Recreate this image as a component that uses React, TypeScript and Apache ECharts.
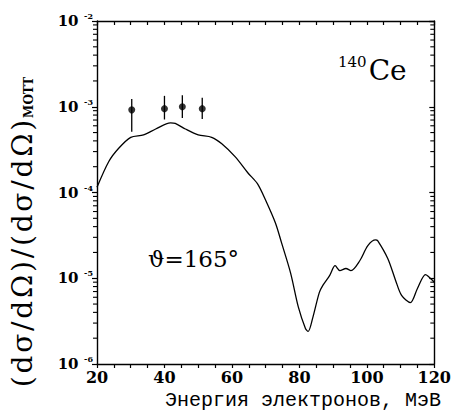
import React, { useEffect, useRef } from 'react';
import * as echarts from 'echarts';

// Calculated curve (electron energy, MeV -> cross-section ratio)
const curveX = [20, 23.5, 26.5, 30, 33.8, 37.4, 41.8, 43.2, 46.2, 50, 54, 57, 61, 64.7, 67.6, 70, 72.9, 74.7, 77.4, 79.7, 81.8, 82.6, 84, 85.9, 87, 89, 90.6, 92, 93.8, 95.3, 97.9, 100.3, 102.6, 103.2, 106.2, 108.5, 110.3, 112.9, 115, 117.4, 118.8, 120];
const curveY = [1.15e-4, 2.3e-4, 3.3e-4, 4.4e-4, 4.7e-4, 5.5e-4, 6.5e-4, 6.4e-4, 5.5e-4, 4.7e-4, 4.4e-4, 3.7e-4, 2.6e-4, 1.7e-4, 1.26e-4, 8.1e-5, 4.4e-5, 2.6e-5, 1.15e-5, 4.6e-6, 2.6e-6, 2.4e-6, 3.5e-6, 6.8e-6, 8.3e-6, 1.08e-5, 1.4e-5, 1.23e-5, 1.3e-5, 1.23e-5, 1.6e-5, 2.4e-5, 2.8e-5, 2.75e-5, 1.7e-5, 9.5e-6, 6.3e-6, 5.2e-6, 7.6e-6, 1.1e-5, 1.0e-5, 9e-6];

// Experimental points with error bars
const pointX = [30.3, 40, 45.3, 51.2];
const pointY = [9.2e-4, 9.5e-4, 1.0e-3, 9.5e-4];
const errLow = [5.1e-4, 7.1e-4, 7.4e-4, 7.2e-4];
const errHigh = [1.23e-3, 1.34e-3, 1.36e-3, 1.27e-3];

// Axis ticks
const xMin = 20;
const xMax = 120;
const xStep = 20;
const yDecades = [-6, -5, -4, -3, -2];
const minorMantissas = [2, 3, 4, 5, 6, 7, 8, 9];

export default function App() {
  const ref = useRef<HTMLDivElement>(null);
  useEffect(() => {
    if (!ref.current) return;
    const chart = echarts.init(ref.current, null, { renderer: 'svg' });

    const minorTicks: number[][] = [];
    for (let i = 0; i < yDecades.length - 1; i++) {
      for (const m of minorMantissas) {
        minorTicks.push([xMin, m * Math.pow(10, yDecades[i])]);
      }
    }

    const black = '#000';
    const serif = 'DejaVu Serif';
    const hs = '\u200A';
    const ratio = ['(', 'd', 'σ', '/', 'd', 'Ω', ')'].join(hs);
    const title = ratio + hs + '/' + hs + ratio;

    chart.setOption({
      animation: false,
      backgroundColor: '#fff',
      grid: { left: 97, right: 17, top: 21, bottom: 55 },
      xAxis: [
        {
          type: 'value', position: 'bottom', min: xMin, max: xMax, interval: xStep,
          axisLine: { show: true, lineStyle: { color: black, width: 1.4 } },
          axisTick: { show: true, inside: false, length: 4, lineStyle: { color: black, width: 1.2 } },
          minorTick: { show: true, splitNumber: 4, length: 4, lineStyle: { color: black, width: 1.2 } },
          splitLine: { show: false },
          axisLabel: { color: black, fontFamily: serif, fontWeight: 'bold', fontSize: 16, margin: 5 },
        },
        {
          type: 'value', position: 'top', min: xMin, max: xMax, interval: xStep,
          axisLine: { show: true, lineStyle: { color: black, width: 1.4 } },
          axisTick: { show: true, inside: true, length: 4, lineStyle: { color: black, width: 1.2 } },
          minorTick: { show: true, splitNumber: 4, length: 4, lineStyle: { color: black, width: 1.2 } },
          splitLine: { show: false },
          axisLabel: { show: false },
        },
      ],
      yAxis: [
        {
          type: 'log', logBase: 10, min: 1e-6, max: 1e-2, position: 'left',
          axisLine: { show: true, lineStyle: { color: black, width: 1.4 } },
          axisTick: { show: true, inside: false, length: 5, lineStyle: { color: black, width: 1.2 } },
          splitLine: { show: false },
          axisLabel: {
            margin: 4,
            formatter: (v: number) => {
              const e = Math.round(Math.log10(v));
              return '{b|10}{s|  ' + (e < 0 ? '-' : '') + Math.abs(e) + '}';
            },
            rich: {
              b: { fontFamily: serif, fontWeight: 'bold', fontSize: 15, color: black },
              s: { fontFamily: serif, fontWeight: 'bold', fontSize: 8, color: black, padding: [0, 0, 10, 0] },
            },
          },
        },
        {
          type: 'log', logBase: 10, min: 1e-6, max: 1e-2, position: 'right',
          axisLine: { show: true, lineStyle: { color: black, width: 1.4 } },
          axisTick: { show: true, inside: true, length: 5, lineStyle: { color: black, width: 1.2 } },
          splitLine: { show: false },
          axisLabel: { show: false },
        },
      ],
      series: [
        {
          type: 'custom',
          xAxisIndex: 0, yAxisIndex: 0,
          silent: true,
          data: minorTicks,
          renderItem: (_p: any, api: any) => {
            const v = api.value(1);
            const l = api.coord([xMin, v]);
            const r = api.coord([xMax, v]);
            return {
              type: 'group',
              children: [
                { type: 'line', shape: { x1: l[0] - 4, y1: l[1], x2: l[0], y2: l[1] }, style: { stroke: black, lineWidth: 1.1 } },
                { type: 'line', shape: { x1: r[0] - 4, y1: r[1], x2: r[0], y2: r[1] }, style: { stroke: black, lineWidth: 1.1 } },
              ],
            };
          },
        },
        {
          type: 'line',
          xAxisIndex: 0, yAxisIndex: 0,
          data: curveX.map((x, i) => [x, curveY[i]]),
          showSymbol: false,
          smooth: 0.3,
          lineStyle: { color: black, width: 1.3 },
        },
        {
          type: 'custom',
          xAxisIndex: 0, yAxisIndex: 0,
          data: pointX.map((x, i) => [x, errLow[i], errHigh[i]]),
          renderItem: (_p: any, api: any) => {
            const x = api.value(0);
            const lo = api.coord([x, api.value(1)]);
            const hi = api.coord([x, api.value(2)]);
            return { type: 'line', shape: { x1: lo[0], y1: lo[1], x2: hi[0], y2: hi[1] }, style: { stroke: black, lineWidth: 1.3 } };
          },
        },
        {
          type: 'scatter',
          xAxisIndex: 0, yAxisIndex: 0,
          data: pointX.map((x, i) => [x, pointY[i]]),
          symbol: 'circle',
          symbolSize: 7,
          itemStyle: { color: black },
        },
      ],
      graphic: [
        {
          type: 'text', x: 22, y: 232, rotation: Math.PI / 2,
          style: {
            text: '{m|' + title + '}{s|MOTT}',
            align: 'center', verticalAlign: 'middle',
            rich: {
              m: { fontFamily: serif, fontSize: 28, fill: black, color: black },
              s: { fontFamily: serif, fontWeight: 'bold', fontSize: 12, fill: black, color: black, padding: [14, 0, 0, 2] },
            },
          },
        },
        {
          type: 'text', x: 338, y: 70,
          style: {
            text: '{s|140}{b|Ce}',
            align: 'left', verticalAlign: 'middle',
            rich: {
              s: { fontFamily: serif, fontSize: 15, fill: black, color: black, padding: [0, 2, 17, 0] },
              b: { fontFamily: serif, fontSize: 28, fill: black, color: black },
            },
          },
        },
        {
          type: 'text', x: 148, y: 259,
          style: { text: 'ϑ=165°', fontFamily: serif, fontSize: 23, fill: black, align: 'left', verticalAlign: 'middle' },
        },
        {
          type: 'text', x: 303, y: 400,
          style: { text: 'Энергия электронов, МэВ', fontFamily: 'Liberation Mono', fontSize: 20, fill: black, align: 'center', verticalAlign: 'middle' },
        },
      ],
    });
    return () => chart.dispose();
  }, []);
  return <div ref={ref} style={{ width: 454, height: 419, position: 'absolute', left: 0, top: 0 }} />;
}
